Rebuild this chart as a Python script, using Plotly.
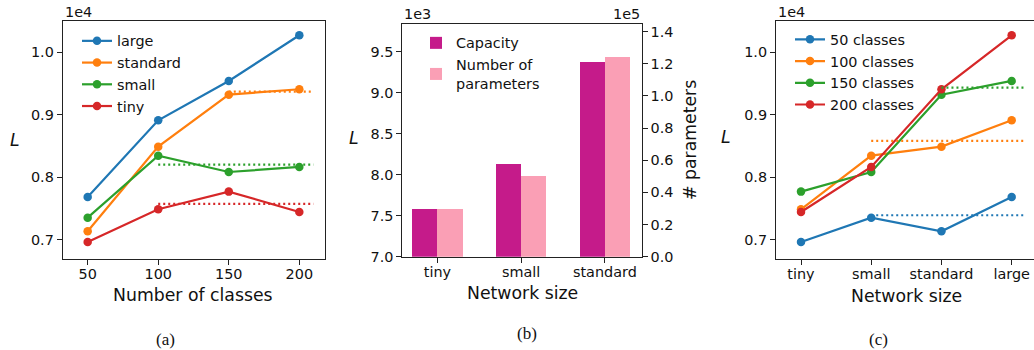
import plotly.graph_objects as go

# ---------------- data ----------------
classes = [50, 100, 150, 200]
net_sizes_a = ["large", "standard", "small", "tiny"]
L_large = [7688, 8913, 9542, 10272]
L_standard = [7139, 8492, 9323, 9409]
L_small = [7357, 8348, 8087, 8167]
L_tiny = [6968, 7491, 7773, 7448]

# dotted reference levels, panel (a)
dot_a_names = ["standard", "small", "tiny"]
dot_a_levels = [9371, 8205, 7576]
dot_a_start = [150, 100, 100]
dot_a_end = [210, 210, 210]

# panel (b)
bar_sizes = ["tiny", "small", "standard"]
capacity = [7581, 8130, 9374]
n_params = [29670, 50400, 124270]

# panel (c)
sizes_c = ["tiny", "small", "standard", "large"]
class_labels = ["50 classes", "100 classes", "150 classes", "200 classes"]
L_c50 = [6968, 7357, 7139, 7688]
L_c100 = [7491, 8348, 8492, 8913]
L_c150 = [7773, 8087, 9323, 9542]
L_c200 = [7448, 8167, 9409, 10272]
dot_c_series = ["50 classes", "100 classes", "150 classes"]
dot_c_levels = [7395, 8583, 9435]
dot_c_start = [1, 1, 2]
dot_c_end = [3.19, 3.19, 3.19]

ticks_L = [7000, 8000, 9000, 10000]
ticks_L_text = ["0.7", "0.8", "0.9", "1.0"]
ticks_cap = [7000, 7500, 8000, 8500, 9000, 9500]
ticks_cap_text = ["7.0", "7.5", "8.0", "8.5", "9.0", "9.5"]
ticks_par = [0, 20000, 40000, 60000, 80000, 100000, 120000, 140000]
ticks_par_text = ["0.0", "0.2", "0.4", "0.6", "0.8", "1.0", "1.2", "1.4"]

# ---------------- style ----------------
W, H = 1034, 350
C = ["#1f77b4", "#ff7f0e", "#2ca02c", "#d62728"]
CAP_COLOR = "#c51b8a"
PAR_COLOR = "#fa9fb5"
FONT = "DejaVu Sans"
TICK = 14.4
LAB = 17.3
LW = 2.2
MS = 8.5
DOT = "2px,3px"


def px(x):
    return x / W


def py(y):
    return 1 - y / H


fig = go.Figure()

# panel (a)
series_a = [L_large, L_standard, L_small, L_tiny]
for name, vals, col in zip(net_sizes_a, series_a, C):
    fig.add_trace(go.Scatter(x=classes, y=vals, name=name, mode="lines+markers",
                             line=dict(color=col, width=LW), marker=dict(size=MS, color=col),
                             xaxis="x", yaxis="y", legend="legend"))
for name, lev, s, e in zip(dot_a_names, dot_a_levels, dot_a_start, dot_a_end):
    col = C[net_sizes_a.index(name)]
    fig.add_trace(go.Scatter(x=[s, e], y=[lev, lev], mode="lines", showlegend=False,
                             line=dict(color=col, width=LW, dash=DOT), xaxis="x", yaxis="y"))

# panel (b)
xb = list(range(len(bar_sizes)))
fig.add_trace(go.Bar(x=xb, y=capacity, name="Capacity", marker=dict(color=CAP_COLOR, line=dict(width=0)),
                     width=0.3, offset=-0.3, xaxis="x2", yaxis="y2", legend="legend2"))
fig.add_trace(go.Bar(x=xb, y=n_params, name="Number of<br>parameters",
                     marker=dict(color=PAR_COLOR, line=dict(width=0)),
                     width=0.3, offset=0.0, xaxis="x2", yaxis="y3", legend="legend2"))

# panel (c)
xc = list(range(len(sizes_c)))
series_c = [L_c50, L_c100, L_c150, L_c200]
for name, vals, col in zip(class_labels, series_c, C):
    fig.add_trace(go.Scatter(x=xc, y=vals, name=name, mode="lines+markers",
                             line=dict(color=col, width=LW), marker=dict(size=MS, color=col),
                             xaxis="x3", yaxis="y4", legend="legend3"))
for name, lev, s, e in zip(dot_c_series, dot_c_levels, dot_c_start, dot_c_end):
    col = C[class_labels.index(name)]
    fig.add_trace(go.Scatter(x=[s, e], y=[lev, lev], mode="lines", showlegend=False,
                             line=dict(color=col, width=LW, dash=DOT), xaxis="x3", yaxis="y4"))

axis_common = dict(showgrid=False, zeroline=False, showline=True, linecolor="#222", linewidth=1,
                   ticks="outside", ticklen=5, tickwidth=1, tickcolor="#222", automargin=False,
                   tickfont=dict(family=FONT, size=TICK, color="#111"))
xaxis_common = dict(axis_common, ticklabelstandoff=-3)

ya_dom = [py(259), py(20.7)]
yb_dom = [py(256.7), py(24)]

fig.update_layout(
    width=W, height=H, margin=dict(l=0, r=0, t=0, b=0, autoexpand=False),
    paper_bgcolor="white", plot_bgcolor="white", hovermode=False,
    font=dict(family=FONT, color="#111"),
    xaxis=dict(xaxis_common, domain=[px(62.7), px(325)], range=[32.3, 218.2],
               tickvals=classes, mirror=True, anchor="y"),
    yaxis=dict(axis_common, domain=ya_dom, range=[6696, 10505], tickvals=ticks_L,
               ticktext=ticks_L_text, mirror=True, anchor="x"),
    xaxis2=dict(xaxis_common, domain=[px(402.3), px(641.7)], range=[-0.42, 2.44],
                tickvals=xb, ticktext=bar_sizes, mirror=True, anchor="y2"),
    yaxis2=dict(axis_common, domain=yb_dom, range=[7000, 9837], tickvals=ticks_cap,
                ticktext=ticks_cap_text, anchor="x2"),
    yaxis3=dict(axis_common, domain=yb_dom, range=[0, 144770], tickvals=ticks_par,
                ticktext=ticks_par_text, overlaying="y2", side="right", anchor="x2"),
    xaxis3=dict(xaxis_common, domain=[px(776), 1.0], range=[-0.356, 3.318],
                tickvals=xc, ticktext=sizes_c, mirror=True, anchor="y4"),
    yaxis4=dict(axis_common, domain=ya_dom, range=[6696, 10505], tickvals=ticks_L,
                ticktext=ticks_L_text, mirror=False, anchor="x3"),
    legend=dict(x=px(77), y=py(25), xanchor="left", yanchor="top", bgcolor="rgba(0,0,0,0)",
                font=dict(family=FONT, size=TICK, color="#111"), tracegroupgap=0),
    legend2=dict(x=px(416), y=py(27), xanchor="left", yanchor="top", bgcolor="rgba(0,0,0,0)",
                 font=dict(family=FONT, size=TICK, color="#111"), tracegroupgap=0),
    legend3=dict(x=px(790), y=py(23.5), xanchor="left", yanchor="top", bgcolor="rgba(0,0,0,0)",
                 font=dict(family=FONT, size=TICK, color="#111"), tracegroupgap=0),
    bargap=0,
)

ann = []


def text(x, y, s, size, xanchor="center", yanchor="middle", angle=0, family=FONT):
    ann.append(dict(x=px(x), y=py(y), xref="paper", yref="paper", text=s, showarrow=False,
                    xanchor=xanchor, yanchor=yanchor, textangle=angle,
                    font=dict(family=family, size=size, color="#111")))


# offset labels
text(62.7, 12.5, "1e4", TICK, xanchor="left")
text(402.3, 14.5, "1e3", TICK, xanchor="left")
text(641.7, 14.5, "1e5", TICK, xanchor="right")
text(776, 12.5, "1e4", TICK, xanchor="left")
# y labels
text(15, 140, "<i>L</i>", LAB)
text(354, 138, "<i>L</i>", LAB)
text(726, 137, "<i>L</i>", LAB)
text(690, 140, "# parameters", LAB, angle=-90)
# x labels
text(193, 295, "Number of classes", LAB)
text(522.5, 293.3, "Network size", LAB)
text(906.7, 295.5, "Network size", LAB)
# captions
text(165, 339, "(a)", 17, family="Liberation Serif")
text(527, 333, "(b)", 17, family="Liberation Serif")
text(878, 339, "(c)", 17, family="Liberation Serif")

fig.update_layout(annotations=ann)
fig.write_html("out.html", config={"displayModeBar": False, "staticPlot": True},
               post_script="document.body.style.margin='0px';document.body.style.overflow='hidden';")
